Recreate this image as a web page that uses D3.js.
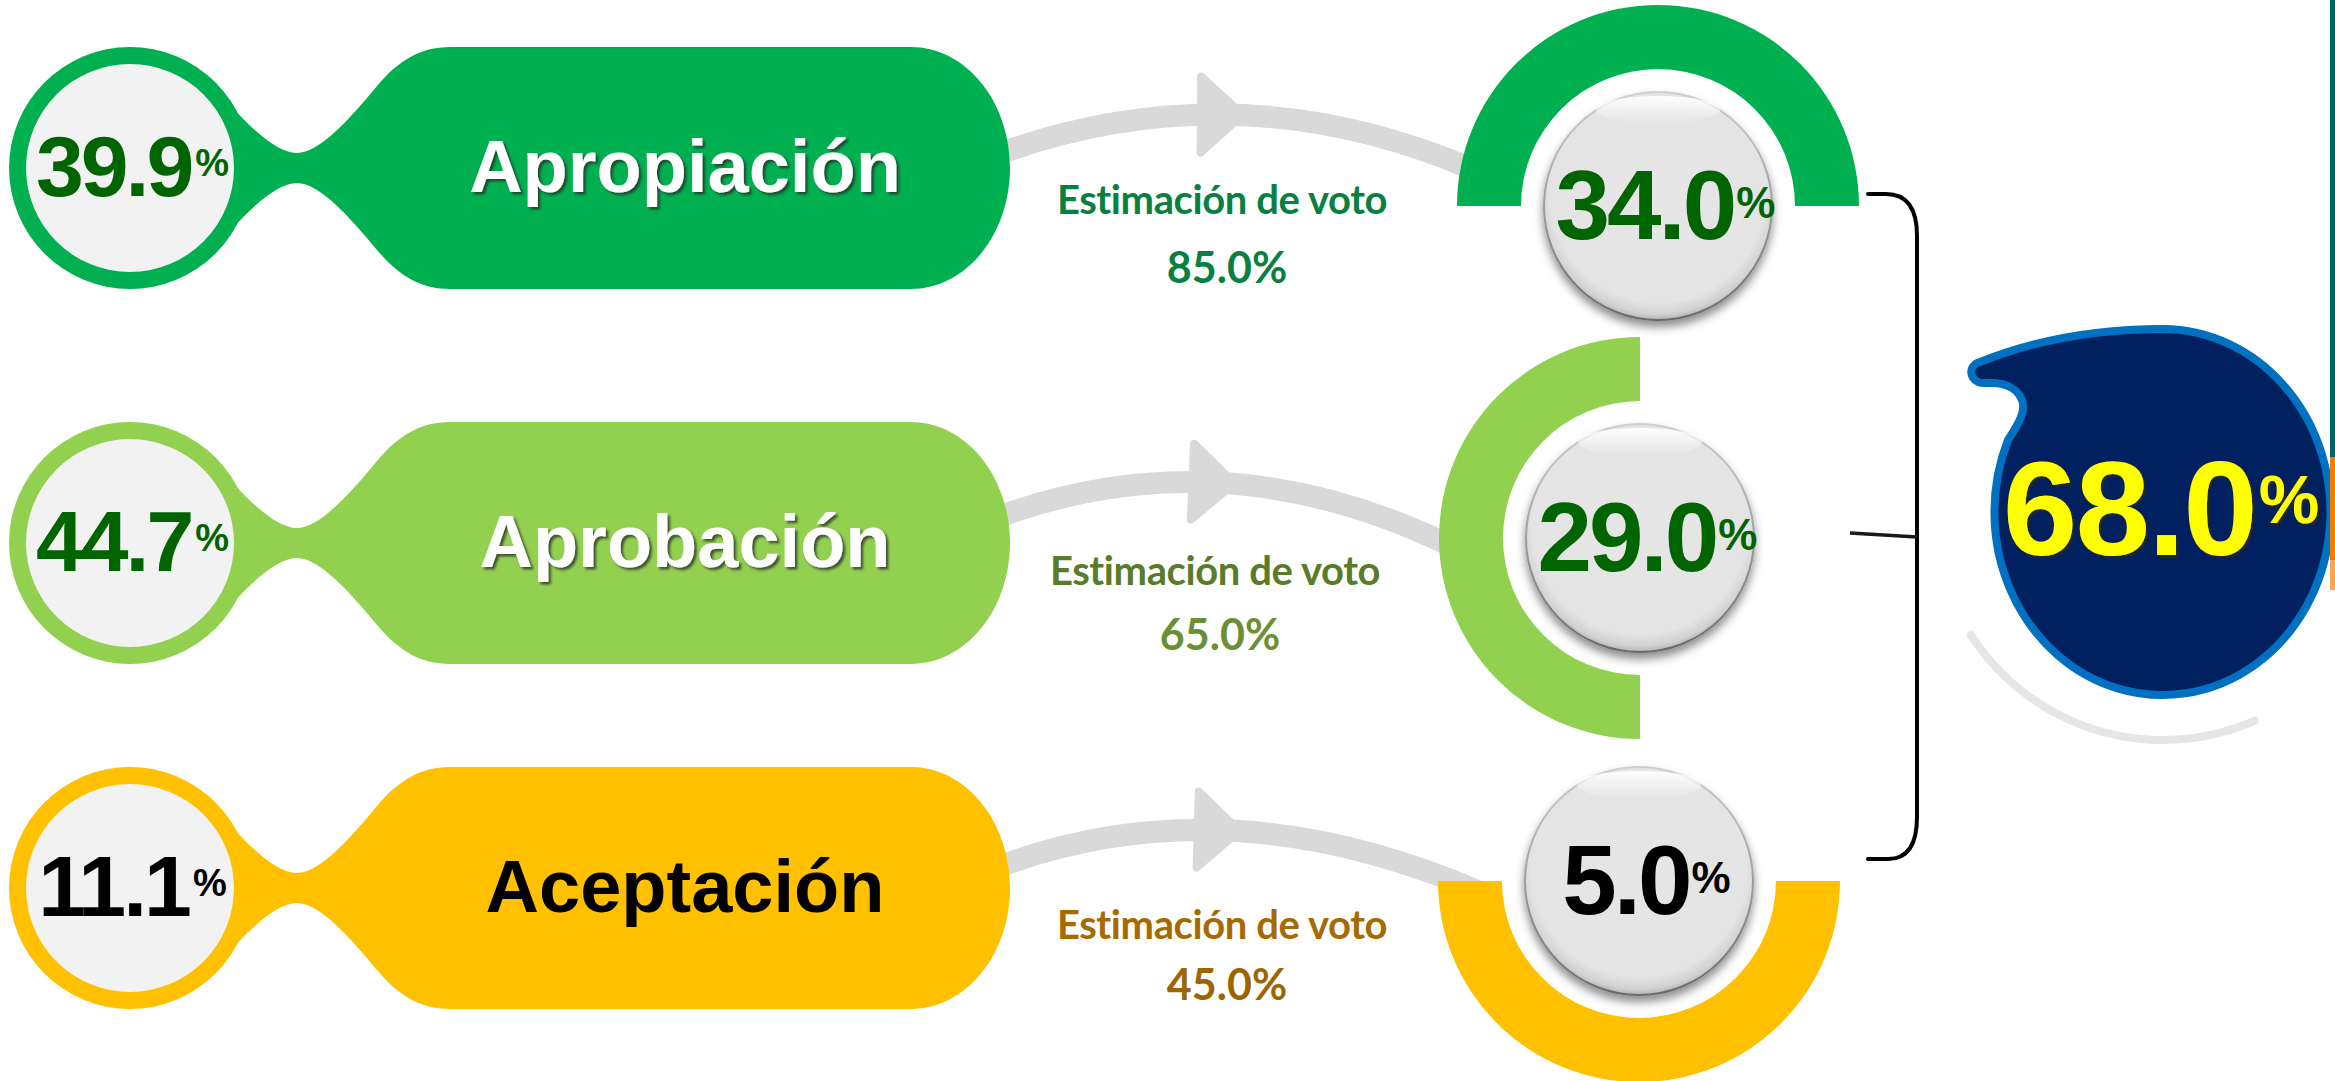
<!DOCTYPE html>
<html>
<head>
<meta charset="utf-8">
<script src="https://cdn.jsdelivr.net/npm/d3@7"></script>
<style>
  html, body { margin: 0; padding: 0; background: #ffffff; }
  svg { display: block; }
</style>
</head>
<body>
<script>
// ---------------- DATA ----------------
const categories    = ["Apropiación", "Aprobación", "Aceptación"];
const shareValues   = [39.9, 44.7, 11.1];      // left circles
const voteEstimate  = [85.0, 65.0, 45.0];      // "Estimación de voto"
const voteValues    = [34.0, 29.0, 5.0];       // gauge buttons
const totalValue    = 68.0;                    // big drop

// ---------------- STYLE / LAYOUT ----------------
const W = 2335, H = 1081;
const fillColors   = ["#00B050", "#92D050", "#FFC000"];
const nameColors   = ["#FFFFFF", "#FFFFFF", "#000000"];
const nameShadow   = [true, true, false];
const numColors    = ["#006400", "#006400", "#000000"];
const labelColors  = ["#078040", "#5A7B27", "#A66B00"];
const valueColors  = ["#078040", "#6B8F33", "#9C6500"];
const gaugeStart   = [-Math.PI / 2, Math.PI, Math.PI / 2];   // half-ring orientation

const rowScale   = d3.scaleOrdinal().domain(categories).range([168, 543, 888]);
const gaugeX     = d3.scaleOrdinal().domain(categories).range([1658, 1640, 1639]);
const gaugeY     = d3.scaleOrdinal().domain(categories).range([206, 538, 881]);
const labelX     = d3.scaleOrdinal().domain(categories).range([1222, 1215, 1222]);
const labelY     = d3.scaleOrdinal().domain(categories).range([214, 585, 939]);
const valueY     = d3.scaleOrdinal().domain(categories).range([283, 650, 1000]);
// arrow curves: start, control, end
const arrowGeom  = d3.scaleOrdinal().domain(categories).range([
  [[990, 157], [1231, 67], [1470, 168]],
  [[990, 520], [1221, 432], [1455, 548]],
  [[990, 870], [1220, 780], [1480, 892]]
]);

const fmt = d3.format(".1f");

const svg = d3.select("body").append("svg")
  .attr("width", W).attr("height", H)
  .style("font-family", "'Liberation Sans', Arial, sans-serif");

const defs = svg.append("defs");
const ts = defs.append("filter").attr("id", "textShadow")
  .attr("x", "-10%").attr("y", "-20%").attr("width", "130%").attr("height", "150%");
ts.append("feDropShadow").attr("dx", 2.5).attr("dy", 2.5).attr("stdDeviation", 1.2)
  .attr("flood-color", "#2a2a2a").attr("flood-opacity", 0.75);

const bs = defs.append("filter").attr("id", "btnShadow")
  .attr("x", "-20%").attr("y", "-20%").attr("width", "140%").attr("height", "150%");
bs.append("feDropShadow").attr("dx", 0).attr("dy", 6).attr("stdDeviation", 5)
  .attr("flood-color", "#000").attr("flood-opacity", 0.45);

const rg = defs.append("radialGradient").attr("id", "btnFill")
  .attr("cx", "50%").attr("cy", "45%").attr("r", "55%");
rg.append("stop").attr("offset", "0%").attr("stop-color", "#E6E6E6");
rg.append("stop").attr("offset", "86%").attr("stop-color", "#E4E4E4");
rg.append("stop").attr("offset", "95%").attr("stop-color", "#D2D2D2");
rg.append("stop").attr("offset", "100%").attr("stop-color", "#B5B5B5");

const rim = defs.append("linearGradient").attr("id", "btnRim")
  .attr("x1", 0).attr("y1", 0).attr("x2", 0).attr("y2", 1);
rim.append("stop").attr("offset", "0%").attr("stop-color", "#D0D0D0");
rim.append("stop").attr("offset", "100%").attr("stop-color", "#6A6A6A");

const hl = defs.append("linearGradient").attr("id", "btnHl")
  .attr("x1", 0).attr("y1", 0).attr("x2", 0).attr("y2", 1);
hl.append("stop").attr("offset", "0%").attr("stop-color", "#FFFFFF").attr("stop-opacity", 0.95);
hl.append("stop").attr("offset", "100%").attr("stop-color", "#FFFFFF").attr("stop-opacity", 0);

// ---------------- ARROWS (behind) ----------------
categories.forEach(c => {
  const [p0, cp, p2] = arrowGeom(c);
  const path = d3.path();
  path.moveTo(p0[0], p0[1]);
  path.quadraticCurveTo(cp[0], cp[1], p2[0], p2[1]);
  svg.append("path").attr("d", path.toString())
    .attr("fill", "none").attr("stroke", "#D9D9D9").attr("stroke-width", 22);
  const t = 0.48;
  const x = (1 - t) * (1 - t) * p0[0] + 2 * (1 - t) * t * cp[0] + t * t * p2[0];
  const y = (1 - t) * (1 - t) * p0[1] + 2 * (1 - t) * t * cp[1] + t * t * p2[1];
  const dx = 2 * (1 - t) * (cp[0] - p0[0]) + 2 * t * (p2[0] - cp[0]);
  const dy = 2 * (1 - t) * (cp[1] - p0[1]) + 2 * t * (p2[1] - cp[1]);
  const ang = Math.atan2(dy, dx) * 180 / Math.PI;
  svg.append("path")
    .attr("d", "M-20,-38 L22,0 L-20,38 Z")
    .attr("transform", `translate(${x},${y}) rotate(${ang})`)
    .attr("fill", "#D9D9D9").attr("stroke", "#D9D9D9")
    .attr("stroke-width", 8).attr("stroke-linejoin", "round");
});

// ---------------- LEFT PILLS ----------------
function pillPath(cy) {
  const k = 0.5523, rx = 99, ry = 121, xe = 911;
  return [
    `M217,${cy - 78}`,
    `C245,${cy - 45} 275,${cy - 15} 297,${cy - 15}`,
    `C319,${cy - 15} 349,${cy - 48} 377,${cy - 82}`,
    `C398,${cy - 107} 420,${cy - 121} 450,${cy - 121}`,
    `L${xe},${cy - 121}`,
    `C${xe + k * rx},${cy - 121} ${xe + rx},${cy - k * ry} ${xe + rx},${cy}`,
    `C${xe + rx},${cy + k * ry} ${xe + k * rx},${cy + 121} ${xe},${cy + 121}`,
    `L450,${cy + 121}`,
    `C420,${cy + 121} 398,${cy + 107} 377,${cy + 82}`,
    `C349,${cy + 48} 319,${cy + 15} 297,${cy + 15}`,
    `C275,${cy + 15} 245,${cy + 45} 217,${cy + 78}`,
    `Z`
  ].join(" ");
}

categories.forEach((c, i) => {
  const cy = rowScale(c);
  const g = svg.append("g");
  g.append("circle").attr("cx", 130).attr("cy", cy).attr("r", 121).attr("fill", fillColors[i]);
  g.append("path").attr("d", pillPath(cy)).attr("fill", fillColors[i]);
  g.append("circle").attr("cx", 130).attr("cy", cy).attr("r", 104).attr("fill", "#F2F2F2");

  const tx = g.append("text").attr("x", 131).attr("y", cy + 28)
    .attr("text-anchor", "middle").attr("font-weight", "bold")
    .attr("fill", numColors[i]).attr("letter-spacing", -3);
  tx.append("tspan").attr("font-size", 86).text(fmt(shareValues[i]));
  tx.append("tspan").attr("font-size", 38).attr("dy", -20).attr("dx", 4).text("%");

  const nm = g.append("text").attr("x", 685).attr("y", cy + 24)
    .attr("text-anchor", "middle").attr("font-weight", "bold")
    .attr("font-size", 74).attr("fill", nameColors[i]).text(c);
  if (nameShadow[i]) nm.attr("filter", "url(#textShadow)");
});

// ---------------- ESTIMACION LABELS ----------------
categories.forEach((c, i) => {
  svg.append("text").attr("x", labelX(c)).attr("y", labelY(c))
    .attr("text-anchor", "middle").attr("font-family", "Lato, 'Open Sans', sans-serif")
    .attr("font-weight", "bold").attr("font-size", 40).attr("letter-spacing", -0.4)
    .attr("fill", labelColors[i]).text("Estimación de voto");
  svg.append("text").attr("x", labelX(c) + 5).attr("y", valueY(c))
    .attr("text-anchor", "middle").attr("font-family", "Lato, 'Open Sans', sans-serif")
    .attr("font-weight", "bold").attr("font-size", 43)
    .attr("fill", valueColors[i]).text(fmt(voteEstimate[i]) + "%");
});

// ---------------- GAUGES ----------------
const ring = d3.arc().innerRadius(137).outerRadius(201);
categories.forEach((c, i) => {
  const cx = gaugeX(c), cy = gaugeY(c);
  const g = svg.append("g").attr("transform", `translate(${cx},${cy})`);
  g.append("path")
    .attr("d", ring({ startAngle: gaugeStart[i], endAngle: gaugeStart[i] + Math.PI }))
    .attr("fill", fillColors[i]);
  g.append("circle").attr("r", 114).attr("fill", "url(#btnFill)")
    .attr("stroke", "url(#btnRim)").attr("stroke-width", 2).attr("filter", "url(#btnShadow)");
  g.append("ellipse").attr("cx", 0).attr("cy", -96).attr("rx", 62).attr("ry", 14)
    .attr("fill", "url(#btnHl)");
  const tx = g.append("text").attr("x", 6).attr("y", 33)
    .attr("text-anchor", "middle").attr("font-weight", "bold")
    .attr("fill", numColors[i]).attr("letter-spacing", -3);
  tx.append("tspan").attr("font-size", 98).text(fmt(voteValues[i]));
  tx.append("tspan").attr("font-size", 44).attr("dy", -21).attr("dx", 2).text("%");
});

// ---------------- BRACKET ----------------
svg.append("path")
  .attr("d", "M1868,194 L1886,194 Q1917,194 1917,236 L1917,817 Q1917,859 1888,859 L1868,859")
  .attr("fill", "none").attr("stroke", "#000").attr("stroke-width", 4)
  .attr("stroke-linecap", "round").attr("stroke-linejoin", "round");
svg.append("path").attr("d", "M1850,533 L1917,537")
  .attr("fill", "none").attr("stroke", "#1a1a1a").attr("stroke-width", 3.5);

// ---------------- TOTAL DROP ----------------
const dcx = 2163, dcy = 512;
const shadowArc = d3.arc().innerRadius(224).outerRadius(232).cornerRadius(4);
svg.append("path").attr("transform", `translate(${dcx},${dcy})`)
  .attr("d", shadowArc({ startAngle: 2.71, endAngle: 4.16 }))
  .attr("fill", "#E7E6E6");

svg.append("path")
  .attr("d", "M1980,362 C2035,340 2095,329 2163,329 A168,183 0 1 1 2008,440 " +
             "C2020,422 2026,410 2022,400 C2018,390 2008,384 1995,383 L1984,383 " +
             "C1970,383 1966,366 1980,362 Z")
  .attr("fill", "#002060").attr("stroke", "#0070C0").attr("stroke-width", 8)
  .attr("stroke-linejoin", "round");

const tt = svg.append("text").attr("x", 2160).attr("y", 555)
  .attr("text-anchor", "middle").attr("font-weight", "bold")
  .attr("fill", "#FFFF00").attr("filter", "url(#textShadow)").attr("letter-spacing", -2);
tt.append("tspan").attr("font-size", 134).text(fmt(totalValue));
tt.append("tspan").attr("font-size", 68).attr("dy", -32).attr("dx", 3).text("%");

// right edge strip
svg.append("rect").attr("x", 2330).attr("y", 0).attr("width", 5).attr("height", 457).attr("fill", "#006462");
svg.append("rect").attr("x", 2330).attr("y", 457).attr("width", 5).attr("height", 103).attr("fill", "#F07D00");
svg.append("rect").attr("x", 2330).attr("y", 560).attr("width", 5).attr("height", 30).attr("fill", "#F8A65C");
</script>
</body>
</html>
